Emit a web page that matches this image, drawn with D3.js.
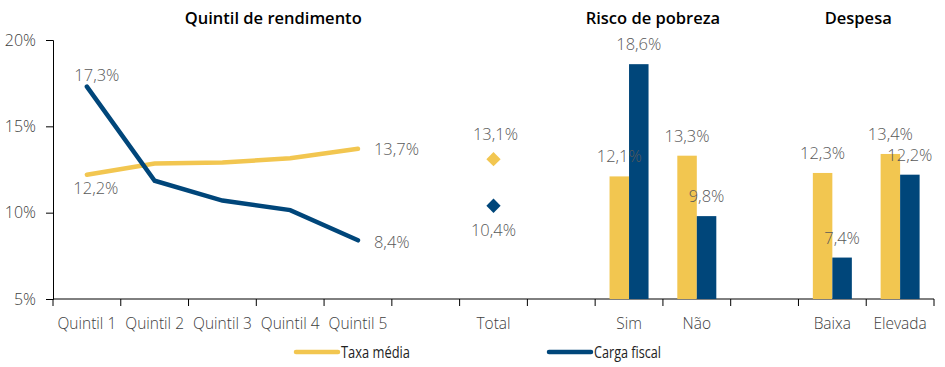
<!DOCTYPE html>
<html><head><meta charset="utf-8">
<script src="https://cdn.jsdelivr.net/npm/d3@7"></script>
<style>
body{margin:0;background:#fff;}
svg{display:block;}
</style></head>
<body>
<svg id="c" width="945" height="367"></svg>
<script>
const categories = ["Quintil 1","Quintil 2","Quintil 3","Quintil 4","Quintil 5","gap1","Total","gap2","Sim","Não","gap3","Baixa","Elevada"];
const quintis = ["Quintil 1","Quintil 2","Quintil 3","Quintil 4","Quintil 5"];
const taxaQuintil = [12.2, 12.85, 12.9, 13.15, 13.7];
const cargaQuintil = [17.3, 11.85, 10.7, 10.15, 8.4];
const totalTaxa = 13.1;
const totalCarga = 10.4;
const barCats = ["Sim","Não","Baixa","Elevada"];
const taxaBars = [12.1, 13.3, 12.3, 13.4];
const cargaBars = [18.6, 9.8, 7.4, 12.2];
const yTicks = [5, 10, 15, 20];
const groupTitles = ["Quintil de rendimento","Risco de pobreza","Despesa"];
const seriesNames = ["Taxa média","Carga fiscal"];

const YEL = "#F2C650", BLU = "#00467A", LAB = "#595959";
const FONT = "Open Sans";
const fmt = v => d3.format(".1f")(v).replace(".", ",") + "%";

const svg = d3.select("#c");
const x = d3.scaleBand().domain(categories).range([53, 934]).paddingInner(0).paddingOuter(0);
const y = d3.scaleLinear().domain([5, 20]).range([299, 40]);
const cx = c => x(c) + x.bandwidth() / 2;

// y axis
const yAxis = svg.append("g").attr("transform", "translate(53,0)")
  .call(d3.axisLeft(y).tickValues(yTicks).tickSize(7).tickFormat(d => d + "%"));
yAxis.select(".domain").attr("stroke", "#000");
yAxis.selectAll(".tick line").attr("stroke", "#000");
yAxis.selectAll("text").attr("font-family", FONT).attr("font-weight", 300).attr("font-size", 16).attr("fill", "#404040").attr("x", -17);

// x axis with boundary ticks
const xAxisG = svg.append("g");
xAxisG.append("line").attr("x1", 53).attr("x2", 934).attr("y1", 299).attr("y2", 299).attr("stroke", "#000");
const bounds = categories.map(c => x(c)).concat([x(categories[categories.length-1]) + x.bandwidth()]);
xAxisG.selectAll("line.t").data(bounds).enter().append("line")
  .attr("x1", d => d).attr("x2", d => d).attr("y1", 299).attr("y2", 306).attr("stroke", "#000");
xAxisG.selectAll("text").data(categories.filter(c => !c.startsWith("gap"))).enter().append("text")
  .attr("x", d => cx(d)).attr("y", 329).attr("text-anchor", "middle")
  .attr("font-family", FONT).attr("font-weight", 300).attr("font-size", 15.5).attr("fill", "#404040").text(d => d);

// lines
const line = d3.line().x((d, i) => cx(quintis[i])).y(d => y(d));
svg.append("path").datum(taxaQuintil).attr("d", line).attr("fill", "none").attr("stroke", YEL).attr("stroke-width", 4.5).attr("stroke-linecap","round");
svg.append("path").datum(cargaQuintil).attr("d", line).attr("fill", "none").attr("stroke", BLU).attr("stroke-width", 4.5).attr("stroke-linecap","round");

// bars
const bw = 19.5;
barCats.forEach((c, i) => {
  svg.append("rect").attr("x", cx(c) - bw).attr("width", bw).attr("y", y(taxaBars[i])).attr("height", y(5) - y(taxaBars[i])).attr("fill", YEL);
  svg.append("rect").attr("x", cx(c)).attr("width", bw).attr("y", y(cargaBars[i])).attr("height", y(5) - y(cargaBars[i])).attr("fill", BLU);
});

// total diamonds
const dia = d3.symbol().type(d3.symbolDiamond2).size(130);
svg.append("path").attr("d", dia).attr("transform", `translate(${cx("Total")},${y(totalTaxa)})`).attr("fill", YEL);
svg.append("path").attr("d", dia).attr("transform", `translate(${cx("Total")},${y(totalCarga)})`).attr("fill", BLU);

// labels
const lab = (tx, ty, t, anchor) => svg.append("text").attr("x", tx).attr("y", ty).attr("text-anchor", anchor || "middle")
  .attr("font-family", FONT).attr("font-weight", 300).attr("font-size", 16.5).attr("fill", LAB).text(t);
const q1 = cx(quintis[0]), q5 = cx(quintis[4]);
lab(q1 + 10, y(cargaQuintil[0]) - 6, fmt(cargaQuintil[0]));
lab(q1 + 9, y(taxaQuintil[0]) + 19, fmt(taxaQuintil[0]));
lab(q5 + 16, y(taxaQuintil[4]) + 6, fmt(taxaQuintil[4]), "start");
lab(q5 + 16, y(cargaQuintil[4]) + 8, fmt(cargaQuintil[4]), "start");
lab(cx("Total") + 2, y(totalTaxa) - 19, fmt(totalTaxa));
lab(cx("Total"), y(totalCarga) + 30, fmt(totalCarga));
barCats.forEach((c, i) => {
  lab(cx(c) - bw / 2, y(taxaBars[i]) - 14, fmt(taxaBars[i]));
  lab(cx(c) + bw / 2, y(cargaBars[i]) - 14, fmt(cargaBars[i]));
});

// group titles
const titleX = [(x("Quintil 1") + cx("Total")) / 2, (cx("Sim") + cx("Não")) / 2 - 10, (cx("Baixa") + cx("Elevada")) / 2 - 8];
groupTitles.forEach((t, i) => {
  svg.append("text").attr("x", titleX[i]).attr("y", 24).attr("text-anchor", "middle")
    .attr("font-family", FONT).attr("font-weight", 600).attr("font-size", 16.5).attr("fill", "#000").text(t);
});

// legend
const legend = [{n:seriesNames[0], c:YEL, x:296, w:69}, {n:seriesNames[1], c:BLU, x:549, w:67}];
legend.forEach(l => {
  svg.append("line").attr("x1", l.x).attr("x2", l.x + 42).attr("y1", 352).attr("y2", 352).attr("stroke", l.c).attr("stroke-width", 4.5).attr("stroke-linecap","round");
  svg.append("text").attr("x", l.x + 45).attr("y", 358).attr("font-family", FONT).attr("font-size", 17)
    .attr("textLength", l.w).attr("lengthAdjust", "spacingAndGlyphs").attr("fill", "#222").text(l.n);
});
</script>
</body></html>
